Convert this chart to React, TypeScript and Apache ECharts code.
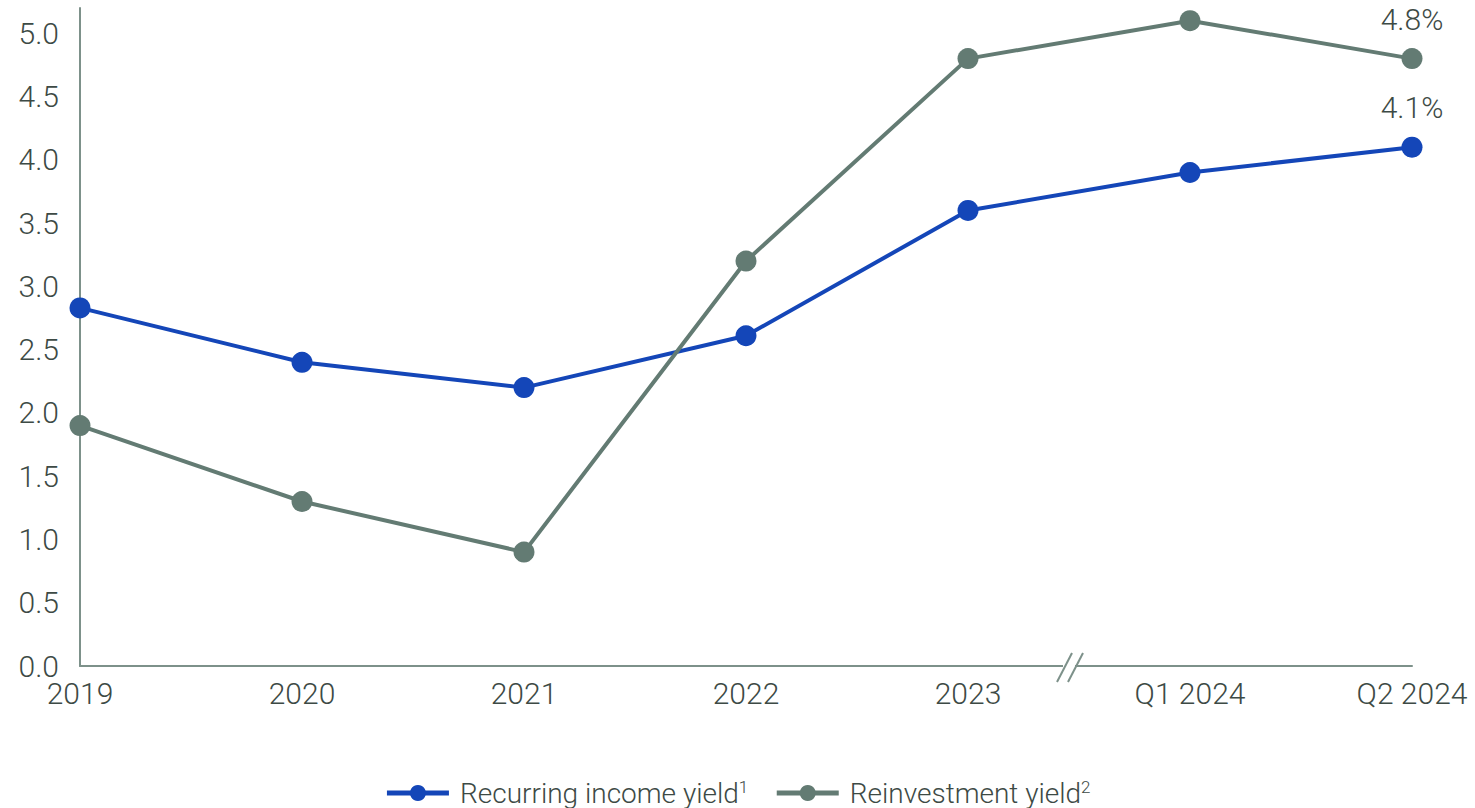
import React, { useEffect, useRef } from "react";
import * as echarts from "echarts";

const categories = ["2019", "2020", "2021", "2022", "2023", "Q1 2024", "Q2 2024"];
const recurringIncomeYield = [2.83, 2.4, 2.2, 2.61, 3.6, 3.9, 4.1];
const reinvestmentYield = [1.9, 1.3, 0.9, 3.2, 4.8, 5.1, 4.8];
const seriesNames = ["Recurring income yield", "Reinvestment yield"];
const superscripts: Record<string, string> = { "Recurring income yield": "1", "Reinvestment yield": "2" };

const BLUE = "#1446b8";
const GREY = "#637b73";
const TEXT = "#3d4a45";
const AXIS = "#7d918a";
const FONT = "Roboto, 'Liberation Sans', sans-serif";

export default function App() {
  const ref = useRef<HTMLDivElement>(null);
  useEffect(() => {
    const chart = echarts.init(ref.current!, null, { renderer: "svg" });
    const lastIdx = categories.length - 1;
    const mkSeries = (name: string, data: number[], color: string) => ({
      name,
      type: "line",
      data: data.map((v, i) =>
        i === lastIdx
          ? {
              value: v,
              label: {
                show: true,
                position: "top",
                distance: 14,
                formatter: (p: any) => p.value.toFixed(1) + "%",
                color: TEXT,
                fontSize: 30,
                fontWeight: 300,
                fontFamily: FONT,
              },
            }
          : v
      ),
      symbol: "circle",
      symbolSize: 21,
      lineStyle: { width: 4, color },
      itemStyle: { color },
      emphasis: { disabled: true },
    });
    chart.setOption({
      animation: false,
      grid: { left: 80, right: 63, top: 8, bottom: 142 },
      legend: {
        bottom: -4,
        left: "center",
        itemWidth: 62,
        itemHeight: 20,
        itemGap: 26,
        data: seriesNames,
        lineStyle: { width: 5 },
        formatter: (n: string) => `{t|${n}}{s|${superscripts[n]}}`,
        textStyle: {
          rich: {
            t: { fontSize: 28, color: TEXT, fontFamily: FONT, fontWeight: 300, padding: [0, 0, 0, 6] },
            s: { fontSize: 17, color: TEXT, fontFamily: FONT, fontWeight: 300, verticalAlign: "top", padding: [0, 0, 12, 0] },
          },
        },
      },
      xAxis: {
        type: "category",
        data: categories,
        boundaryGap: false,
        axisLine: { lineStyle: { color: AXIS, width: 2 } },
        axisTick: { show: false },
        axisLabel: { color: TEXT, fontSize: 30, fontWeight: 300, fontFamily: FONT, margin: 12 },
      },
      yAxis: {
        type: "value",
        min: 0,
        max: 5.2,
        interval: 0.5,
        splitLine: { show: false },
        axisLine: { show: true, lineStyle: { color: AXIS, width: 2 } },
        axisTick: { show: false },
        axisLabel: {
          color: TEXT,
          fontSize: 30,
          fontWeight: 300,
          fontFamily: FONT,
          margin: 21,
          showMaxLabel: false,
          formatter: (v: number) => v.toFixed(1),
        },
      },
      graphic: [
        { type: "rect", shape: { x: 1063, y: 662, width: 12, height: 8 }, style: { fill: "#ffffff" }, z: 100 },
        { type: "line", shape: { x1: 1057, y1: 682, x2: 1072, y2: 653 }, style: { stroke: AXIS, lineWidth: 2 }, z: 101 },
        { type: "line", shape: { x1: 1068, y1: 682, x2: 1083, y2: 653 }, style: { stroke: AXIS, lineWidth: 2 }, z: 101 },
      ],
      series: [
        mkSeries(seriesNames[0], recurringIncomeYield, BLUE),
        mkSeries(seriesNames[1], reinvestmentYield, GREY),
      ],
    });
    return () => chart.dispose();
  }, []);
  return <div ref={ref} style={{ width: 1475, height: 808, position: "absolute", left: 0, top: 0 }} />;
}
